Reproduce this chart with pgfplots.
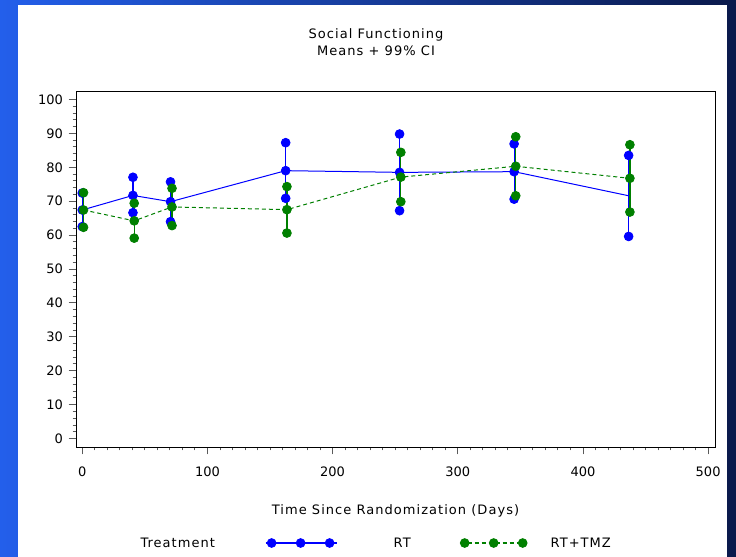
\documentclass[border=0pt]{standalone}
\usepackage{fontspec}
\setmainfont{DejaVu Sans}[LetterSpace=8]
\newfontfamily\tickfont{DejaVu Sans}
\usepackage{pgfplots}
\usepackage{pgfplotstable}
\pgfplotsset{compat=1.18}
\definecolor{rtblue}{RGB}{0,0,255}
\definecolor{tmzgreen}{RGB}{0,128,0}
\definecolor{bgleft}{RGB}{35,95,235}
\definecolor{bgright}{RGB}{10,25,75}
\definecolor{tickgray}{RGB}{90,90,90}

\pgfplotstableread{
t     lo    mean  hi
0     62.5  67.4  72.4
40.5  66.6  71.7  77.05
70.5  63.95 69.85 75.7
162.5 70.85 79.0  87.25
253.5 67.2  78.5  89.8
345   70.6  78.7  86.9
436.5 59.6  71.6  83.5
}\rtdata

\pgfplotstableread{
t     lo    mean  hi
1     62.3  67.4  72.5
41.5  59.1  64.2  69.4
71.7  62.8  68.3  73.8
163.5 60.6  67.5  74.3
254.5 69.85 77.1  84.4
346.3 71.6  80.3  89.0
437.5 66.8  76.75 86.65
}\tmzdata

\begin{document}
\begin{tikzpicture}[x=1bp,y=1bp]
\shade[left color=bgleft, right color=bgright] (0,0) rectangle (736,557);
\fill[white] (18,0) rectangle (727,552);

\begin{axis}[
  width=639bp, height=356bp, scale only axis,
  at={(76bp,110bp)}, anchor=south west,
  xmin=-5, xmax=505.5, ymin=-2.5, ymax=102.5,
  xtick={0,100,...,500}, ytick={0,10,...,100},
  minor x tick num=9, minor y tick num=4,
  tick align=outside, tick pos=left,
  major tick length=7.5bp, minor tick length=3.5bp,
  every tick/.style={tickgray, line width=0.9bp},
  axis line style={black, line width=0.9bp},
  /pgf/number format/assume math mode=true,
  tick label style={font=\tickfont\fontsize{13bp}{15bp}\selectfont, black},
  xticklabel style={yshift=-9bp},
  yticklabel style={xshift=-2bp},
  xlabel={Time Since Randomization (Days)},
  xlabel style={at={(axis description cs:0.5,-0.1798)}, anchor=center,
                font=\fontsize{13bp}{15bp}\selectfont},
  legend columns=2,
  legend style={at={(0.2958,-0.2697)}, anchor=west, draw=none, fill=none,
                inner sep=0pt, outer sep=0pt, column sep=0pt,
                nodes={inner sep=0pt, font=\fontsize{13bp}{15bp}\selectfont}},
  legend cell align=left,
]
% RT (blue)
\addplot[rtblue, line width=1bp, mark=*, mark indices={1,2,3,4,5,6},
  mark size=4.4bp, mark options={draw=rtblue, fill=rtblue, solid, line width=0.8bp}, forget plot,
  error bars/.cd, y dir=both, y explicit, error mark=none,
  error bar style={rtblue, line width=1.2bp, solid}]
  table[x=t, y=mean, y error plus expr=\thisrow{hi}-\thisrow{mean},
        y error minus expr=\thisrow{mean}-\thisrow{lo}] {\rtdata};
\addplot[rtblue, only marks, mark=*, mark size=4.4bp, mark options={draw=rtblue, fill=rtblue, line width=0.8bp}, forget plot]
  table[x=t, y=lo] {\rtdata};
\addplot[rtblue, only marks, mark=*, mark size=4.4bp, mark options={draw=rtblue, fill=rtblue, line width=0.8bp}, forget plot]
  table[x=t, y=hi] {\rtdata};
% RT+TMZ (green)
\addplot[tmzgreen, line width=1bp, dash pattern=on 4bp off 3bp, mark=*,
  mark size=4.4bp, mark options={draw=tmzgreen, fill=tmzgreen, solid, line width=0.8bp}, forget plot,
  error bars/.cd, y dir=both, y explicit, error mark=none,
  error bar style={tmzgreen, line width=1.2bp, solid}]
  table[x=t, y=mean, y error plus expr=\thisrow{hi}-\thisrow{mean},
        y error minus expr=\thisrow{mean}-\thisrow{lo}] {\tmzdata};
\addplot[tmzgreen, only marks, mark=*, mark size=4.4bp, mark options={draw=tmzgreen, fill=tmzgreen, line width=0.8bp}, forget plot]
  table[x=t, y=lo] {\tmzdata};
\addplot[tmzgreen, only marks, mark=*, mark size=4.4bp, mark options={draw=tmzgreen, fill=tmzgreen, line width=0.8bp}, forget plot]
  table[x=t, y=hi] {\tmzdata};

\addlegendimage{legend image code/.code={
  \path[draw=none, fill=none] (0bp,0bp) -- (128bp,0bp);
  \draw[rtblue, line width=1.2bp, solid] (0bp,0bp) -- (71bp,0bp);
  \draw[rtblue, only marks, mark=*, mark size=4.4bp, mark options={draw=rtblue, fill=rtblue, line width=0.8bp}]
    plot coordinates {(6bp,0bp) (35bp,0bp) (64bp,0bp)};
}}
\addlegendentry{RT}
\addlegendimage{legend image code/.code={
  \path[draw=none, fill=none] (0bp,0bp) -- (140bp,0bp);
  \draw[tmzgreen, line width=1.2bp, dash pattern=on 4bp off 3bp] (50bp,0bp) -- (116bp,0bp);
  \draw[tmzgreen, only marks, mark=*, mark size=4.4bp, mark options={draw=tmzgreen, fill=tmzgreen, line width=0.8bp, solid}]
    plot coordinates {(54bp,0bp) (83bp,0bp) (112bp,0bp)};
}}
\addlegendentry{RT+TMZ}
\end{axis}

\node[font=\fontsize{13bp}{17.5bp}\selectfont, align=center] at (376,515)
  {Social Functioning\\Means + 99\% CI};
\node[font=\fontsize{13bp}{15bp}\selectfont, anchor=west] at (137,14) {Treatment};

\pgfresetboundingbox
\path[use as bounding box] (0,0) rectangle (736,557);
\end{tikzpicture}
\end{document}
